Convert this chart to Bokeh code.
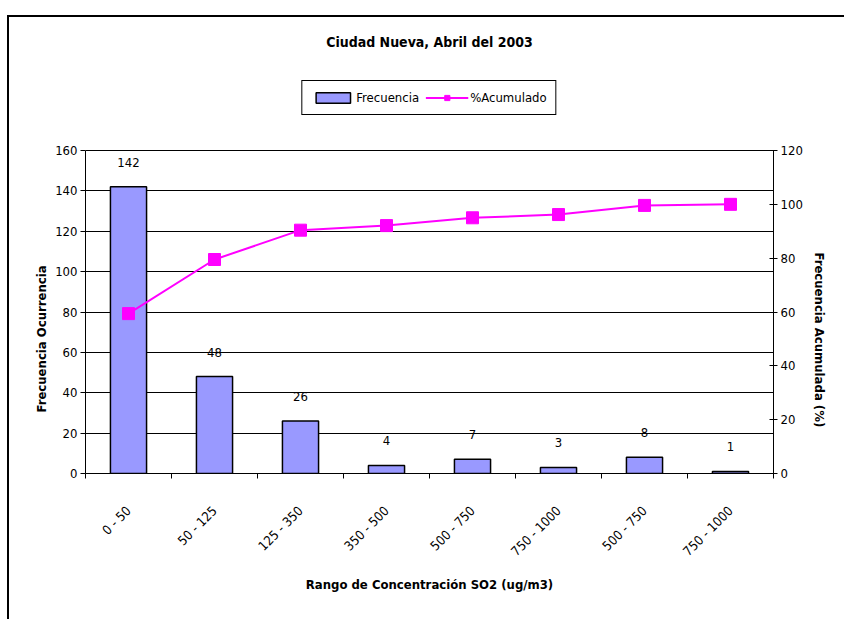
import numpy as np
from bokeh.plotting import figure
from bokeh.models import Range1d, LinearAxis, FixedTicker, Legend, LegendItem, Title
from bokeh.core.properties import value
from bokeh.embed import file_html
from bokeh.resources import INLINE

# ---- data ----
rangos = ["0 - 50", "50 - 125", "125 - 350", "350 - 500",
          "500 - 750", "750 - 1000", "500 - 750", "750 - 1000"]
frecuencia = [142, 48, 26, 4, 7, 3, 8, 1]
acumulado = [59.4, 79.5, 90.4, 92.1, 95.0, 96.2, 99.6, 100.0]
ticks_izq = [0, 20, 40, 60, 80, 100, 120, 140, 160]
ticks_der = [0, 20, 40, 60, 80, 100, 120]

FONT = "DejaVu Sans Condensed"

# layout (pixels): the frame also holds the legend above the bar area
AREA_H = 323          # height of the 0..160 area
FRAME_H = 413         # frame height including the legend strip
k = FRAME_H / AREA_H

n = len(rangos)
xs = [i + 0.5 for i in range(n)]

p = figure(frame_width=688, frame_height=FRAME_H,
           x_range=Range1d(0, n), y_range=Range1d(0, ticks_izq[-1] * k),
           output_backend="svg", toolbar_location=None,
           min_border_left=76, min_border_right=71, min_border_top=43, min_border_bottom=146)
p.styles = {"margin-left": "7px", "margin-top": "15px",
            "border-left": "2px solid black", "border-top": "2px solid black"}
p.extra_y_ranges = {"pct": Range1d(0, ticks_der[-1] * k)}
p.outline_line_color = None
p.background_fill_color = "white"
p.border_fill_color = "white"

# title
p.title.text = "Ciudad Nueva, Abril del 2003"
p.title.align = "center"
p.title.text_font = FONT
p.title.text_font_size = "14px"
p.title.text_font_style = "bold"
p.title.text_color = "black"
p.title.standoff = 21

# grid
p.xgrid.visible = False
p.ygrid.grid_line_color = "black"
p.ygrid.grid_line_width = 1
p.ygrid.bounds = (ticks_izq[0], ticks_izq[-1])

# x axis
xa = p.xaxis[0]
xa.ticker = FixedTicker(ticks=xs, minor_ticks=list(range(n + 1)))
xa.major_label_overrides = {xs[i]: rangos[i] for i in range(n)}
xa.major_tick_in = 0
xa.major_tick_out = 0
xa.minor_tick_in = 0
xa.minor_tick_out = 5
xa.minor_tick_line_color = "black"
xa.axis_line_color = "black"
xa.major_label_orientation = np.pi / 4
xa.major_label_standoff = 30
xa.major_label_text_font = FONT
xa.major_label_text_font_size = "13px"
xa.major_label_text_color = "black"
xa.axis_label = "Rango de Concentración SO2 (ug/m3)"
xa.axis_label_text_font = FONT
xa.axis_label_text_font_size = "13px"
xa.axis_label_text_font_style = "bold"
xa.axis_label_text_color = "black"
xa.axis_label_standoff = 10

# left axis
ya = p.yaxis[0]
ya.ticker = FixedTicker(ticks=ticks_izq)
ya.bounds = (ticks_izq[0], ticks_izq[-1])
ya.major_tick_in = 0
ya.major_tick_out = 5
ya.minor_tick_line_color = None
ya.axis_line_color = "black"
ya.major_label_standoff = 3
ya.major_label_text_font = FONT
ya.major_label_text_font_size = "13px"
ya.major_label_text_color = "black"

# right axis
ra = LinearAxis(y_range_name="pct", ticker=FixedTicker(ticks=ticks_der),
                bounds=(ticks_der[0], ticks_der[-1]),
                major_tick_in=4, major_tick_out=4, minor_tick_line_color=None,
                axis_line_color="black", major_label_standoff=3,
                major_label_text_font=FONT, major_label_text_font_size="13px",
                major_label_text_color="black")
p.add_layout(ra, "right")

# axis titles (side titles, offset so they sit beside the bar area)
t_izq = Title(text="Frecuencia Ocurrencia", align="left", offset=61,
              text_font=FONT, text_font_size="13px", text_font_style="bold",
              text_color="black", standoff=8)
p.add_layout(t_izq, "left")
t_der = Title(text="Frecuencia Acumulada (%)", align="left", offset=192,
              text_font=FONT, text_font_size="13px", text_font_style="bold",
              text_color="black", standoff=12)
p.add_layout(t_der, "right")

# bars
bars = p.vbar(x=xs, top=frecuencia, width=0.42, fill_color="#9999FF",
              line_color="black", line_width=1.5)
p.text(x=xs, y=frecuencia, text=[str(v) for v in frecuencia], y_offset=-20,
       text_align="center", text_baseline="bottom", text_font=value(FONT),
       text_font_size="13px", text_color="black")

# cumulative line
ln = p.line(xs, acumulado, y_range_name="pct", line_color="#FF00FF", line_width=2)
sc = p.scatter(xs, acumulado, y_range_name="pct", marker="square", size=12,
               fill_color="#FF00FF", line_color="#FF00FF")

legend = Legend(items=[LegendItem(label="Frecuencia", renderers=[bars]),
                       LegendItem(label="%Acumulado", renderers=[ln, sc])],
                orientation="horizontal", location="top_center",
                border_line_color="black", border_line_width=1, border_line_alpha=1,
                background_fill_color="white", background_fill_alpha=1,
                label_text_font=FONT, label_text_font_size="13px",
                label_text_color="black",
                glyph_width=43, glyph_height=13, spacing=6, label_standoff=2,
                padding=9, margin=20)
p.add_layout(legend, "center")

open("out.html", "w").write(file_html(p, INLINE))
